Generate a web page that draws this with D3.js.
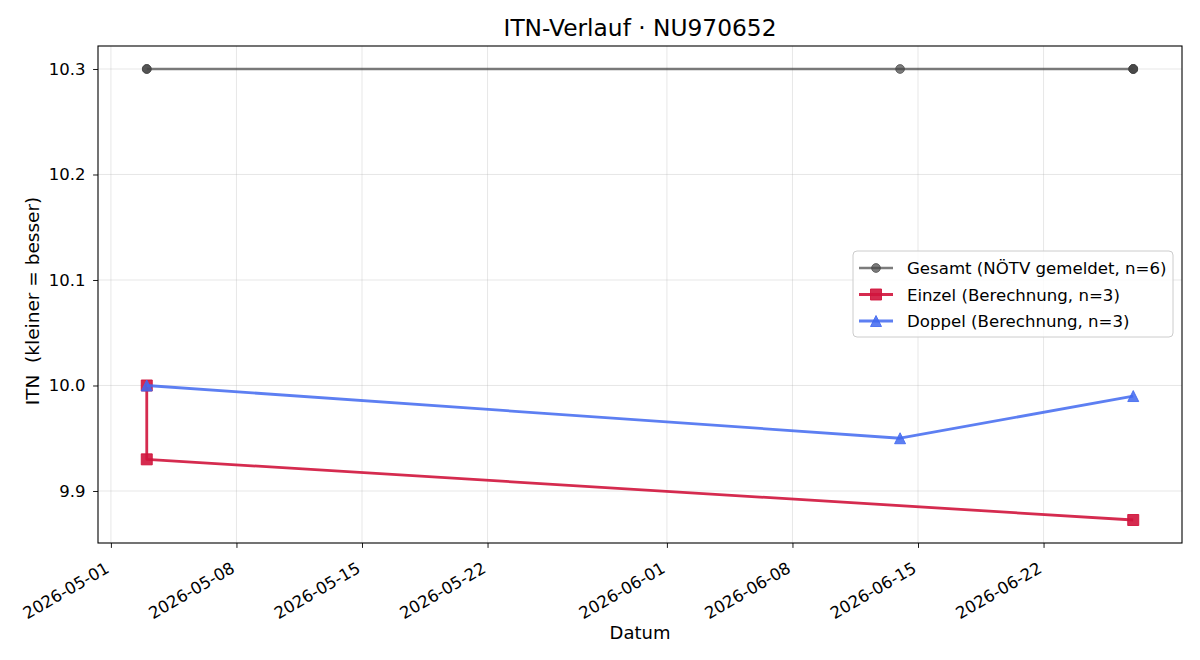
<!DOCTYPE html>
<html>
<head>
<meta charset="utf-8">
<script src="https://cdn.jsdelivr.net/npm/d3@7"></script>
<style>
  body { margin: 0; background: #fff; }
  text { font-family: "DejaVu Sans", sans-serif; fill: #000; }
</style>
</head>
<body>
<div id="chart"></div>
<script>
// data
var gesamtDates = ["2026-05-03", "2026-05-03", "2026-06-14", "2026-06-27", "2026-06-27", "2026-06-27"];
var gesamtValues = [10.3, 10.3, 10.3, 10.3, 10.3, 10.3];
var einzelDates = ["2026-05-03", "2026-05-03", "2026-06-27"];
var einzelValues = [10.0, 9.93, 9.8725];
var doppelDates = ["2026-05-03", "2026-06-14", "2026-06-27"];
var doppelValues = [10.0, 9.95, 9.99];
var xTickLabels = ["2026-05-01", "2026-05-08", "2026-05-15", "2026-05-22", "2026-06-01", "2026-06-08", "2026-06-15", "2026-06-22"];
var yTicks = [9.9, 10.0, 10.1, 10.2, 10.3];
var legendLabels = ["Gesamt (NÖTV gemeldet, n=6)", "Einzel (Berechnung, n=3)", "Doppel (Berechnung, n=3)"];

var width = 1200, height = 660;
var margin = {top: 46, right: 18, bottom: 117, left: 98};
var w = width - margin.left - margin.right;
var h = height - margin.top - margin.bottom;

var parse = d3.utcParse("%Y-%m-%d");
function zip(dates, vals) {
  return dates.map(function (d, i) { return {date: parse(d), value: vals[i]}; });
}

var series = [
  {name: legendLabels[0], data: zip(gesamtDates, gesamtValues), color: "#444", opacity: 0.7, lw: 2.4, marker: "circle"},
  {name: legendLabels[1], data: zip(einzelDates, einzelValues), color: "#d0143c", opacity: 0.9, lw: 2.8, marker: "square"},
  {name: legendLabels[2], data: zip(doppelDates, doppelValues), color: "#4169f0", opacity: 0.85, lw: 2.8, marker: "triangle"}
];

// matplotlib-like marker shapes
var triangleUp = {
  draw: function (ctx, size) {
    var r = Math.sqrt(size) / 2;
    ctx.moveTo(0, -r);
    ctx.lineTo(r, r);
    ctx.lineTo(-r, r);
    ctx.closePath();
  }
};
function markerPath(m) {
  if (m === "circle") return d3.symbol().type(d3.symbolCircle).size(Math.PI * 4.4 * 4.4)();
  if (m === "square") return d3.symbol().type(d3.symbolSquare).size(11 * 11)();
  return d3.symbol().type(triangleUp).size(11 * 11)();
}

var svg = d3.select("#chart").append("svg")
  .attr("width", width)
  .attr("height", height);

var g = svg.append("g")
  .attr("transform", "translate(" + margin.left + "," + margin.top + ")");

var x = d3.scaleUtc()
  .domain([new Date(Date.UTC(2026, 3, 30, 6, 45)), new Date(Date.UTC(2026, 5, 29, 17, 15))])
  .range([0, w]);

var y = d3.scaleLinear()
  .domain([9.8507, 10.3218])
  .range([h, 0]);

var xTicks = xTickLabels.map(parse);

// grid
g.append("g").selectAll("line.vg")
  .data(xTicks).enter().append("line")
  .attr("x1", function (d) { return x(d); })
  .attr("x2", function (d) { return x(d); })
  .attr("y1", 0).attr("y2", h)
  .attr("stroke", "#b0b0b0").attr("stroke-opacity", 0.3).attr("stroke-width", 1);

g.append("g").selectAll("line.hg")
  .data(yTicks).enter().append("line")
  .attr("y1", function (d) { return y(d); })
  .attr("y2", function (d) { return y(d); })
  .attr("x1", 0).attr("x2", w)
  .attr("stroke", "#b0b0b0").attr("stroke-opacity", 0.3).attr("stroke-width", 1);

// axes
var xAxis = g.append("g")
  .attr("transform", "translate(0," + h + ")")
  .call(d3.axisBottom(x).tickValues(xTicks).tickFormat(d3.utcFormat("%Y-%m-%d")).tickSize(4.9));
xAxis.select(".domain").remove();
xAxis.selectAll("line").attr("stroke", "#000").attr("stroke-width", 0.9);
xAxis.selectAll("text")
  .style("font-size", "16.5px")
  .style("font-family", "DejaVu Sans, sans-serif")
  .attr("text-anchor", "end")
  .attr("x", 0).attr("y", 0).attr("dy", 0)
  .attr("transform", "translate(-1,28.5) rotate(-30)");

var yAxis = g.append("g")
  .call(d3.axisLeft(y).tickValues(yTicks).tickFormat(d3.format(".1f")).tickSize(4.9).tickPadding(7.5));
yAxis.select(".domain").remove();
yAxis.selectAll("line").attr("stroke", "#000").attr("stroke-width", 0.9);
yAxis.selectAll("text")
  .style("font-size", "16.5px")
  .style("font-family", "DejaVu Sans, sans-serif");

// frame
g.append("rect")
  .attr("width", w).attr("height", h)
  .attr("fill", "none").attr("stroke", "#000").attr("stroke-width", 1.1);

// lines + markers
var line = d3.line()
  .x(function (d) { return x(d.date); })
  .y(function (d) { return y(d.value); });

series.forEach(function (s) {
  var sg = g.append("g");
  sg.append("path")
    .datum(s.data)
    .attr("d", line)
    .attr("fill", "none")
    .attr("stroke", s.color)
    .attr("stroke-opacity", s.opacity)
    .attr("stroke-width", s.lw)
    .attr("stroke-linejoin", "round");
  sg.selectAll("path.m")
    .data(s.data).enter().append("path")
    .attr("class", "m")
    .attr("d", markerPath(s.marker))
    .attr("transform", function (d) { return "translate(" + x(d.date) + "," + y(d.value) + ")"; })
    .attr("fill", s.color)
    .attr("fill-opacity", s.opacity)
    .attr("stroke", s.color)
    .attr("stroke-opacity", s.opacity)
    .attr("stroke-width", 1);
});

// title + labels
svg.append("text")
  .attr("x", margin.left + w / 2).attr("y", 36)
  .attr("text-anchor", "middle")
  .style("font-size", "23.3px")
  .text("ITN-Verlauf · NU970652");

svg.append("text")
  .attr("x", margin.left + w / 2).attr("y", 639)
  .attr("text-anchor", "middle")
  .style("font-size", "18px")
  .text("Datum");

svg.append("text")
  .attr("transform", "translate(39,301) rotate(-90)")
  .attr("text-anchor", "middle")
  .attr("xml:space", "preserve")
  .style("font-size", "18.5px")
  .style("white-space", "pre")
  .text("ITN  (kleiner = besser)");

// legend
var lg = svg.append("g").attr("transform", "translate(853,251)");
lg.append("rect")
  .attr("width", 320).attr("height", 86)
  .attr("rx", 4)
  .attr("fill", "#fff").attr("fill-opacity", 0.8)
  .attr("stroke", "#ccc").attr("stroke-width", 1);

series.forEach(function (s, i) {
  var yy = 17 + i * 26.5;
  lg.append("line")
    .attr("x1", 6).attr("x2", 40).attr("y1", yy).attr("y2", yy)
    .attr("stroke", s.color).attr("stroke-opacity", s.opacity).attr("stroke-width", s.lw);
  lg.append("path")
    .attr("d", markerPath(s.marker))
    .attr("transform", "translate(23," + yy + ")")
    .attr("fill", s.color).attr("fill-opacity", s.opacity)
    .attr("stroke", s.color).attr("stroke-opacity", s.opacity).attr("stroke-width", 1);
  lg.append("text")
    .attr("x", 54).attr("y", yy + 6)
    .style("font-size", "16.6px")
    .text(s.name);
});
</script>
</body>
</html>
